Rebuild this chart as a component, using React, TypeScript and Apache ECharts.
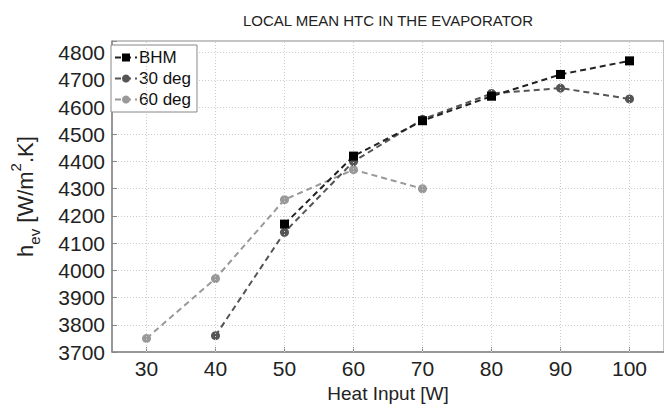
import React, { useEffect, useRef } from "react";
import * as echarts from "echarts";

const heatInput = [30, 40, 50, 60, 70, 80, 90, 100];
const bhm: (number | null)[] = [null, null, 4170, 4420, 4550, 4640, 4720, 4770];
const deg30: (number | null)[] = [null, 3760, 4140, 4400, 4555, 4650, 4670, 4630];
const deg60: (number | null)[] = [3750, 3970, 4260, 4370, 4300, null, null, null];
const yTicks = [3700, 3800, 3900, 4000, 4100, 4200, 4300, 4400, 4500, 4600, 4700, 4800];

const pairs = (vals: (number | null)[]) =>
  heatInput.map((x, i) => [x, vals[i]]).filter((p) => p[1] !== null);

const FONT = "Liberation Sans, Arial, Helvetica, sans-serif";

export default function App() {
  const ref = useRef<HTMLDivElement>(null);
  useEffect(() => {
    if (!ref.current) return;
    const chart = echarts.init(ref.current, undefined, { renderer: "svg" });
    const dashed = [6, 4];
    chart.setOption({
      animation: false,
      backgroundColor: "#ffffff",
      textStyle: { fontFamily: FONT },
      title: {
        text: "LOCAL MEAN HTC IN THE EVAPORATOR",
        left: 383,
        textAlign: "center",
        top: 8,
        textStyle: { fontSize: 15, fontWeight: "normal", color: "#222", fontFamily: FONT },
      },
      legend: {
        orient: "vertical",
        left: 111,
        top: 45,
        backgroundColor: "#ffffff",
        borderColor: "#888",
        borderWidth: 1,
        borderRadius: 0,
        padding: [4, 6, 4, 3],
        itemGap: 4,
        itemWidth: 22,
        itemHeight: 10,
        textStyle: { fontSize: 17, color: "#111", fontFamily: FONT, padding: [0, 0, 0, -3] },
        data: ["BHM", "30 deg", "60 deg"],
      },
      grid: {
        left: 112,
        top: 41,
        width: 555,
        height: 311,
        show: true,
        borderColor: "#888",
        borderWidth: 1,
        backgroundColor: "#ffffff",
      },
      xAxis: {
        type: "value",
        min: 25,
        max: 105,
        name: "Heat Input [W]",
        nameLocation: "middle",
        nameGap: 32,
        nameTextStyle: { fontSize: 19, color: "#222", fontFamily: FONT },
        axisLine: { show: true, lineStyle: { color: "#888", width: 1.5 } },
        axisTick: { show: true, inside: true, length: 5, customValues: heatInput, lineStyle: { color: "#888" } },
        axisLabel: {
          fontSize: 21,
          color: "#222",
          margin: 6,
          fontFamily: FONT,
          customValues: heatInput,
          formatter: (v: number) => String(v),
        },
        splitLine: { show: false },
      },
      yAxis: {
        type: "value",
        min: 3700,
        max: 4843,
        interval: 100,
        name: "h{sub|ev} [W/m{sup|2}.K]",
        nameLocation: "middle",
        nameRotate: 90,
        nameGap: 76,
        nameTextStyle: {
          fontSize: 22,
          color: "#222",
          fontFamily: FONT,
          rich: {
            sub: { fontSize: 15, verticalAlign: "bottom", color: "#222", fontFamily: FONT, padding: [0, 0, -6, 0] },
            sup: { fontSize: 15, verticalAlign: "top", color: "#222", fontFamily: FONT, padding: [-6, 0, 0, 0] },
          },
        },
        axisLine: { show: true, lineStyle: { color: "#888", width: 1.5 } },
        axisTick: { show: true, inside: true, length: 5, lineStyle: { color: "#888" } },
        axisLabel: {
          fontSize: 21,
          color: "#222",
          margin: 7,
          fontFamily: FONT,
          customValues: yTicks,
          formatter: (v: number) => String(v),
        },
        splitLine: { show: true, lineStyle: { color: "#ccc", type: [1, 2], width: 1 } },
      },
      series: [
        {
          name: "grid-x",
          type: "line",
          data: [],
          silent: true,
          z: 1,
          markLine: {
            silent: true,
            symbol: "none",
            label: { show: false },
            lineStyle: { color: "#ccc", type: [1, 2], width: 1 },
            data: heatInput.map((x) => ({ xAxis: x })),
          },
        },
        {
          name: "BHM",
          type: "line",
          z: 5,
          data: pairs(bhm),
          symbol: "rect",
          symbolSize: 9,
          itemStyle: { color: "#000" },
          lineStyle: { color: "#222", width: 2, type: dashed },
        },
        {
          name: "30 deg",
          type: "line",
          z: 4,
          data: pairs(deg30),
          symbol: "circle",
          symbolSize: 9,
          itemStyle: { color: "#555" },
          lineStyle: { color: "#555", width: 2, type: dashed },
        },
        {
          name: "60 deg",
          type: "line",
          z: 3,
          data: pairs(deg60),
          symbol: "circle",
          symbolSize: 9,
          itemStyle: { color: "#999" },
          lineStyle: { color: "#999", width: 2, type: dashed },
        },
      ],
    });
    return () => chart.dispose();
  }, []);
  return (
    <div
      ref={ref}
      style={{ position: "fixed", left: 0, top: 0, width: 664, height: 413 }}
    />
  );
}
